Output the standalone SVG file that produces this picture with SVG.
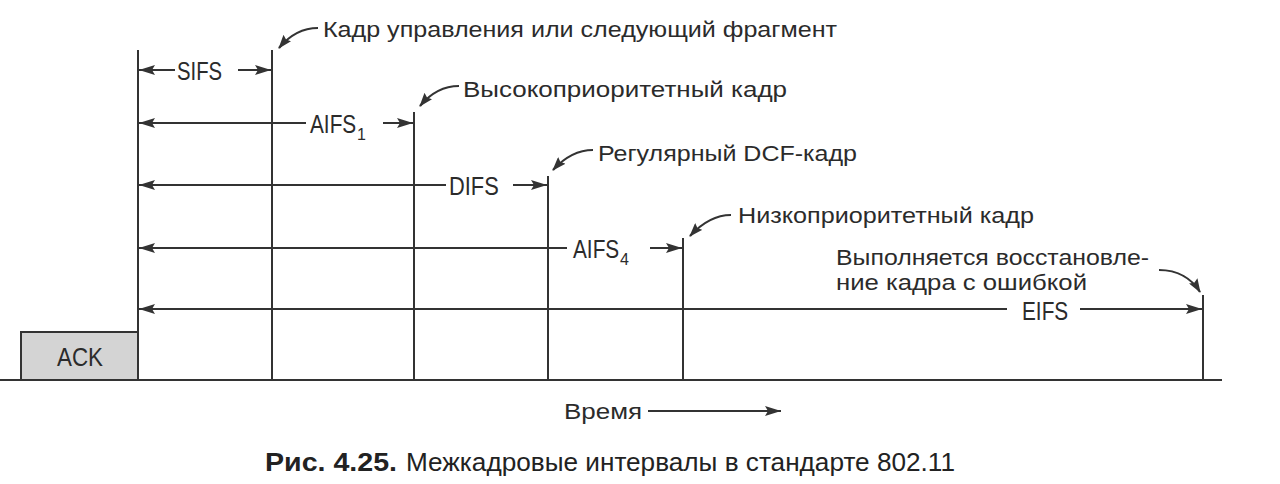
<svg xmlns="http://www.w3.org/2000/svg" width="1280" height="484" viewBox="0 0 1280 484">
<style>
.ln{stroke:#333;stroke-width:2;fill:none}
.iv{stroke:#333;stroke-width:2;fill:none}
.cv{stroke:#333;stroke-width:2.2;fill:none}
.lbl{font-family:"Liberation Sans",Arial,sans-serif;font-size:22px;fill:#2b2b2b}
.ivl{font-family:"Liberation Sans",Arial,sans-serif;font-size:26px;fill:#2b2b2b}
.sub{font-family:"Liberation Sans",Arial,sans-serif;font-size:16px;fill:#2b2b2b}
.cap{font-family:"Liberation Sans",Arial,sans-serif;font-size:25px;fill:#222}
</style>
<defs>
<marker id="ah" viewBox="0 0 16 10" refX="16" refY="5" markerWidth="16" markerHeight="10" markerUnits="userSpaceOnUse" orient="auto-start-reverse">
<path d="M0,0 L16,5 L0,10 L3,5 z" fill="#333"/>
</marker>
<marker id="ch" viewBox="0 0 14 10" refX="13" refY="5" markerWidth="14" markerHeight="10" markerUnits="userSpaceOnUse" orient="auto">
<path d="M0,0 L14,5 L0,10 L2,5 z" fill="#333"/>
</marker>
</defs>
<rect width="1280" height="484" fill="#fff"/>

<g id="timeline">
<line class="ln" x1="0" y1="380" x2="1222" y2="380"/>
<line class="ln" x1="138" y1="50" x2="138" y2="380"/>
<line class="ln" x1="272" y1="50" x2="272" y2="380"/>
<line class="ln" x1="414" y1="112" x2="414" y2="380"/>
<line class="ln" x1="548" y1="176" x2="548" y2="380"/>
<line class="ln" x1="683" y1="238" x2="683" y2="380"/>
<line class="ln" x1="1203" y1="295" x2="1203" y2="380"/>
</g>

<g id="ack">
<rect x="21" y="332" width="117" height="48" fill="#d4d4d4" stroke="#333" stroke-width="2"/>
<text class="ivl" x="80" y="366" text-anchor="middle" font-size="25" textLength="46" lengthAdjust="spacingAndGlyphs">ACK</text>
</g>

<g id="connectors">
<path class="iv" d="M139,70 H175" marker-start="url(#ah)"/>
<path class="iv" d="M238,70 H271" marker-end="url(#ah)"/>
<path class="iv" d="M139,123 H306" marker-start="url(#ah)"/>
<path class="iv" d="M383,123 H413" marker-end="url(#ah)"/>
<path class="iv" d="M139,185 H446" marker-start="url(#ah)"/>
<path class="iv" d="M513,185 H547" marker-end="url(#ah)"/>
<path class="iv" d="M139,248 H567" marker-start="url(#ah)"/>
<path class="iv" d="M650,248 H682" marker-end="url(#ah)"/>
<path class="iv" d="M139,309 H1007" marker-start="url(#ah)"/>
<path class="iv" d="M1080,309 H1202" marker-end="url(#ah)"/>
<path class="cv" d="M318,28 C302,28 289,36 279,48" marker-end="url(#ch)"/>
<path class="cv" d="M459,86 C443,86 430,94 420,106" marker-end="url(#ch)"/>
<path class="cv" d="M593,150 C577,150 564,158 553,170" marker-end="url(#ch)"/>
<path class="cv" d="M731,215 C715,215 702,223 690,236" marker-end="url(#ch)"/>
<path class="cv" d="M1159,270 C1178,270 1192,279 1200,292" marker-end="url(#ch)"/>
<path class="iv" d="M648,411 H781" marker-end="url(#ah)"/>
</g>

<g id="intervals">
<text class="ivl" transform="translate(177,80) scale(0.78,1)">SIFS</text>
<text class="ivl" transform="translate(310,133) scale(0.8,1)">AIFS</text>
<text class="sub" x="357" y="140">1</text>
<text class="ivl" transform="translate(449,195) scale(0.84,1)">DIFS</text>
<text class="ivl" transform="translate(573,258) scale(0.8,1)">AIFS</text>
<text class="sub" x="620" y="265">4</text>
<text class="ivl" transform="translate(1022,320) scale(0.8,1)">EIFS</text>
</g>

<g id="labels">
<text class="lbl" x="323" y="37" textLength="514" lengthAdjust="spacingAndGlyphs">Кадр управления или следующий фрагмент</text>
<text class="lbl" x="463" y="97" textLength="324" lengthAdjust="spacingAndGlyphs">Высокоприоритетный кадр</text>
<text class="lbl" x="598" y="161" textLength="259" lengthAdjust="spacingAndGlyphs">Регулярный DCF-кадр</text>
<text class="lbl" x="738" y="223" textLength="296" lengthAdjust="spacingAndGlyphs">Низкоприоритетный кадр</text>
<text class="lbl" x="836" y="265" textLength="313" lengthAdjust="spacingAndGlyphs">Выполняется восстановле-</text>
<text class="lbl" x="836" y="290" textLength="251" lengthAdjust="spacingAndGlyphs">ние кадра с ошибкой</text>
<text class="lbl" x="564" y="419" textLength="78" lengthAdjust="spacingAndGlyphs">Время</text>
</g>

<g id="caption">
<text class="cap" x="265" y="471" font-weight="bold" textLength="132" lengthAdjust="spacingAndGlyphs">Рис. 4.25.</text>
<text class="cap" x="406" y="471" textLength="549" lengthAdjust="spacingAndGlyphs">Межкадровые интервалы в стандарте 802.11</text>
</g>
</svg>
